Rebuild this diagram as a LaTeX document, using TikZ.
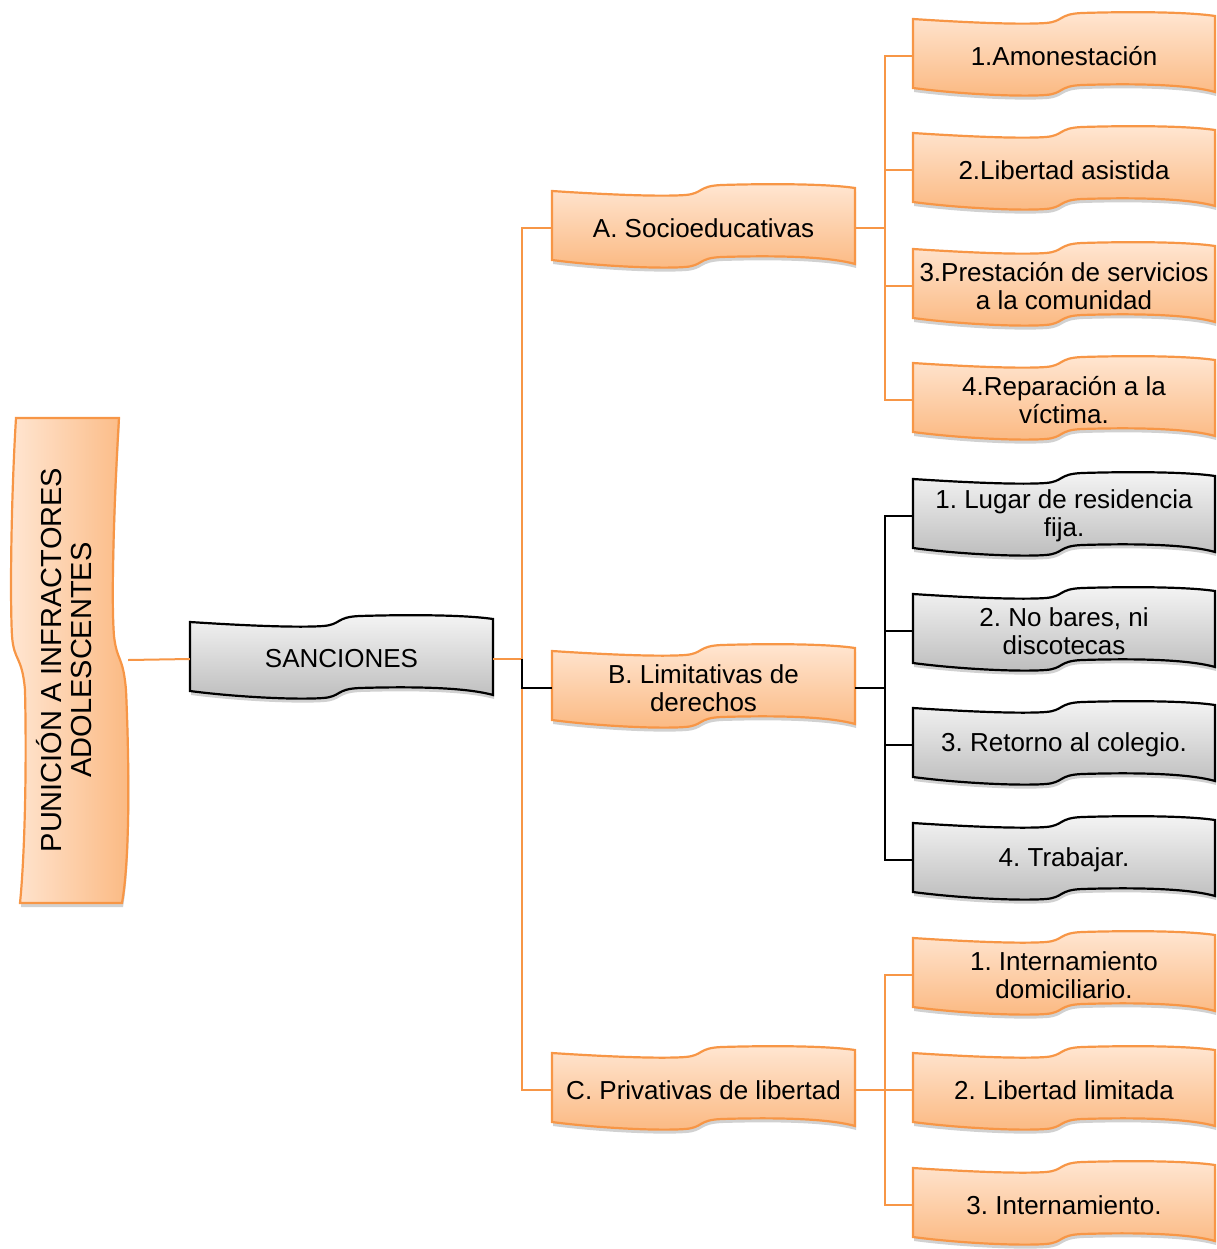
\documentclass[tikz,border=0pt]{standalone}
\usepackage{fontspec}
\usepackage{graphicx}
\setmainfont{Liberation Sans}
\frenchspacing
\usetikzlibrary{shadows,calc}
\definecolor{orline}{HTML}{F79646}
\definecolor{ortop}{HTML}{FFE6D2}
\definecolor{orbot}{HTML}{FBB982}
\definecolor{grtop}{HTML}{F4F4F4}
\definecolor{grbot}{HTML}{BDBDBD}
\tikzset{
  shad/.style={drop shadow={shadow xshift=1pt,shadow yshift=-4pt,opacity=.18,fill=black}},
  orbox/.style={draw=orline, line width=2.2pt, top color=ortop, bottom color=orbot, shad},
  grbox/.style={draw=black, line width=2.2pt, top color=grtop, bottom color=grbot, shad},
  vbox/.style={draw=orline, line width=2.2pt, left color=ortop, right color=orbot, shad},
  btxt/.style={draw=none, inner sep=0pt, align=center, font=\fontsize{26}{27.5}\selectfont, text=black},
  oline/.style={draw=orline, line width=2pt},
  kline/.style={draw=black, line width=2pt},
}
% #1 name, #2 left x, #3 centre y, #4 width, #5 style, #6 text
\newcommand\wbox[6]{%
  \pgfmathsetmacro\wy{#3-44}%
  \path[#5] ({#2},{\wy+7}) .. controls ({#2+0.15*#4},{\wy+10}) and ({#2+0.35*#4},{\wy+13}) .. ({#2+0.44*#4},{\wy+11})
    .. controls ({#2+0.5*#4},{\wy+9.5}) and ({#2+0.48*#4},{\wy+2}) .. ({#2+0.56*#4},{\wy+1})
    .. controls ({#2+0.7*#4},{\wy-0.3}) and ({#2+0.9*#4},{\wy-0.5}) .. ({#2+#4},{\wy+4})
    -- ({#2+#4},{\wy+80})
    .. controls ({#2+0.9*#4},{\wy+71.5}) and ({#2+0.7*#4},{\wy+71.7}) .. ({#2+0.56*#4},{\wy+73})
    .. controls ({#2+0.48*#4},{\wy+74}) and ({#2+0.5*#4},{\wy+81.5}) .. ({#2+0.44*#4},{\wy+83})
    .. controls ({#2+0.35*#4},{\wy+85}) and ({#2+0.15*#4},{\wy+82}) .. ({#2},{\wy+76}) -- cycle;
  \node[btxt, minimum width=#4, minimum height=70] (#1) at ({#2+#4/2},{#3}) {#6};
}
\begin{document}
\begin{tikzpicture}[x=1pt,y=-1pt]
\useasboundingbox (0,0) rectangle (1216,1249);
% vertical title banner
\path[vbox] (119,418) .. controls (114,500) and (111,600) .. (114,636)
  .. controls (117,662) and (123,655) .. (126,690)
  .. controls (130,781) and (129,864) .. (122,903)
  -- (20,903) .. controls (24,864) and (27,781) .. (25,690)
  .. controls (22,655) and (14,662) .. (12,636)
  .. controls (10,600) and (11,500) .. (16,418) -- cycle;
\node[draw=none, inner sep=0pt, minimum width=120, minimum height=485, text=black] (P) at (68,660)
  {\rotatebox{90}{\fontsize{29}{30}\selectfont\begin{tabular}{@{}c@{}}PUNICIÓN A INFRACTORES\\ADOLESCENTES\end{tabular}}};
% level 1
\wbox{S}{190}{659}{303}{grbox}{SANCIONES}
% level 2
\wbox{A}{552}{228}{303}{orbox}{A. Socioeducativas}
\wbox{B}{552}{688}{303}{orbox}{B. Limitativas de\\derechos}
\wbox{C}{552}{1090}{303}{orbox}{C. Privativas de libertad}
% level 3
\wbox{a1}{913}{56}{302}{orbox}{1.Amonestación}
\wbox{a2}{913}{170}{302}{orbox}{2.Libertad asistida}
\wbox{a3}{913}{286}{302}{orbox}{3.Prestación de servicios\\a la comunidad}
\wbox{a4}{913}{400}{302}{orbox}{4.Reparación a la\\víctima.}
\wbox{b1}{913}{516}{302}{grbox}{1. Lugar de residencia\\fija.}
\wbox{b2}{913}{631}{302}{grbox}{2. No bares, ni\\discotecas}
\wbox{b3}{913}{745}{302}{grbox}{3. Retorno al colegio.}
\wbox{b4}{913}{860}{302}{grbox}{4. Trabajar.}
\wbox{c1}{913}{975}{302}{orbox}{1. Internamiento\\domiciliario.}
\wbox{c2}{913}{1090}{302}{orbox}{2. Libertad limitada}
\wbox{c3}{913}{1205}{302}{orbox}{3. Internamiento.}
% connectors
\draw[oline] (P.east) -- (S.west);
\coordinate (jS) at ($(S.east)+(29,0)$);
\draw[oline] (S.east) -- (jS);
\draw[oline] (jS) |- (A.west);
\draw[oline] (jS) |- (C.west);
\draw[kline] (jS) |- (B.west);
\coordinate (jA) at ($(A.east)+(30,0)$);
\draw[oline] (A.east) -- (jA);
\foreach \i in {1,...,4} \draw[oline] (jA) |- (a\i.west);
\coordinate (jB) at ($(B.east)+(30,0)$);
\draw[kline, line width=2.6pt] (B.east) -- (jB);
\foreach \i in {1,...,4} \draw[kline] (jB) |- (b\i.west);
\coordinate (jC) at ($(C.east)+(30,0)$);
\draw[oline] (C.east) -- (jC);
\foreach \i in {1,...,3} \draw[oline] (jC) |- (c\i.west);
\end{tikzpicture}
\end{document}
